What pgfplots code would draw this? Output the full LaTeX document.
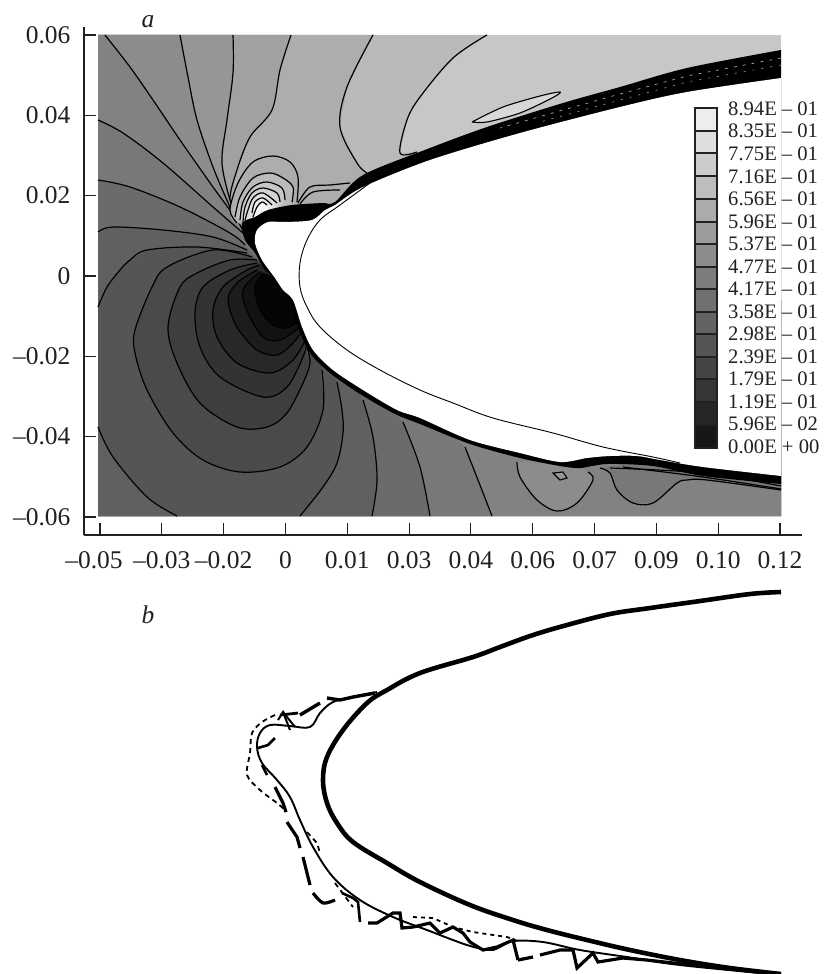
\documentclass[border=0pt]{standalone}
\usepackage{pgfplots}
\pgfplotsset{compat=1.18}
\usepackage{fontspec}
\setmainfont{Liberation Serif}
\definecolor{ink}{gray}{.13}
\definecolor{c0}{gray}{.78}\definecolor{c1}{gray}{.73}\definecolor{c2}{gray}{.68}\definecolor{c3}{gray}{.63}
\definecolor{c4}{gray}{.59}\definecolor{c5}{gray}{.55}\definecolor{c6}{gray}{.51}\definecolor{c7}{gray}{.47}
\definecolor{c8}{gray}{.42}\definecolor{c9}{gray}{.375}\definecolor{c10}{gray}{.335}\definecolor{c11}{gray}{.29}
\definecolor{c12}{gray}{.245}\definecolor{c13}{gray}{.2}\definecolor{c14}{gray}{.155}\definecolor{c15}{gray}{.11}
\definecolor{c16}{gray}{.07}\definecolor{c17}{gray}{.02}
\definecolor{l1}{gray}{.82}\definecolor{l2}{gray}{.87}\definecolor{l3}{gray}{.92}\definecolor{l4}{gray}{.96}
% fill a band between a contour and its closure, then stroke the contour
\def\fb#1#2#3{\edef\tmp{\noexpand\addplot[fill=#1,draw=none] coordinates {#2 #3} --cycle;
  \noexpand\addplot[black,line width=1.2pt,smooth,tension=.55] coordinates {#2};}\tmp}
% the same with a rounded fill, for closed rings
\def\fs#1#2#3{\edef\tmp{\noexpand\addplot[fill=#1,draw=none,smooth,tension=.55] coordinates {#2 #3};
  \noexpand\addplot[black,line width=1.2pt,smooth,tension=.55] coordinates {#2};}\tmp}
\def\ln#1{\addplot[black,line width=1.2pt,smooth,tension=.55] coordinates {#1};}
\def\lb#1#2#3{\addplot[fill=black!#3,draw=ink,line width=1.2pt] coordinates {(695,#1) (717,#1) (717,#2) (695,#2)} --cycle;}
\begin{document}
\begin{tikzpicture}
\useasboundingbox (0,0) rectangle (826pt,-974pt);
\begin{axis}[
  at={(84pt,-535pt)},anchor=south west,scale only axis,width=718pt,height=508pt,
  xmin=-0.054,xmax=0.1255,ymin=-0.06448,ymax=0.06199,
  x filter/.expression={-0.05+(x-100)*0.00025},
  y filter/.expression={0.06-(y-35)*0.000248963},
  scaled x ticks=false,scaled y ticks=false,
  axis x line=bottom,axis y line=left,axis line style={-,ink,line width=1.3pt},
  tick style={ink,line width=1.1pt},tickwidth=12pt,tick align=inside,
  xtick={-0.05,-0.03455,-0.01909,-0.00364,0.01182,0.02727,0.04273,0.05818,0.07364,0.08909,0.10455,0.12},
  xticklabels={\hspace*{-12pt}–0.05,–0.03,–0.02,0,0.01,0.03,0.04,0.06,0.07,0.09,0.10,0.12},
  ytick={-0.06,-0.04,-0.02,0,0.02,0.04,0.06},
  yticklabels={–0.06,–0.04,–0.02,0,0.02,0.04,0.06},
  tick label style={font=\fontsize{25.5}{28}\selectfont,text=ink},
  xticklabel style={yshift=-13pt},
  yticklabel style={xshift=-10pt},
  no markers,
]
% field
\addplot[fill=c0,draw=none] coordinates {(98,35) (781,35) (781,516) (98,516)} --cycle;
% light side, contours from the top right to the left
\fb{c1}{(487,35) (453,58) (420,97) (407,120) (400,153) (417,152)}{(430,200) (450,300) (781,300) (781,516) (98,516) (98,35)}
\fb{c2}{(373,35) (347,87) (340,127) (357,163) (367,173)}{(380,200) (400,300) (781,300) (781,516) (98,516) (98,35)}
\fb{c3}{(291,35) (280,70) (272,110) (250,137) (237,170) (230,200) (240,223)}{(300,300) (781,300) (781,516) (98,516) (98,35)}
\fb{c4}{(233,35) (233,73) (227,120) (222,163) (232,207) (240,227)}{(300,300) (781,300) (781,516) (98,516) (98,35)}
\fb{c5}{(180,35) (188,77) (197,120) (213,167) (230,207) (240,227)}{(300,300) (781,300) (781,516) (98,516) (98,35)}
\fb{c6}{(105,35) (130,67) (153,100) (180,140) (213,187) (237,220) (245,235)}{(300,300) (781,300) (781,516) (98,516) (98,35)}
% lighter and darker pockets below the body
\fs{c5}{(517,462) (520,477) (537,500) (557,511) (577,503) (593,480) (588,472)}{(560,460)}
\addplot[fill=c4,draw=black,line width=1.1pt] coordinates {(553,473) (563,472) (567,478) (560,480)} --cycle;
\fb{c7}{(600,468) (610,473) (617,490) (633,503) (653,503) (677,483) (687,480) (707,480) (781,490)}{(781,470) (650,460)}
% contours that run out of the field and come back
\fb{c7}{(98,120) (123,133) (163,163) (213,207) (243,233)}{(300,300) (465,447) (478,480) (492,516) (98,516)}
\ln{(465,447) (478,480) (492,516)}
\fb{c8}{(98,180) (130,187) (180,207) (230,233) (245,245)}{(300,300) (403,422) (420,467) (430,516) (98,516)}
\ln{(403,422) (420,467) (430,516)}
\fb{c9}{(98,232) (113,227) (163,230) (213,237) (247,250)}{(300,300) (363,400) (373,437) (377,480) (372,516) (98,516)}
\ln{(363,400) (373,437) (377,480) (372,516)}
\fb{c10}{(98,307) (107,287) (120,270) (130,260) (147,250) (197,247) (247,253)}{(300,300) (337,382) (342,410) (343,433) (337,463) (323,487) (300,516) (177,516) (147,497) (113,457) (98,427)}
\ln{(337,382) (342,410) (343,433) (337,463) (323,487) (300,516)}
\ln{(177,516) (147,497) (113,457) (98,427)}
% rings round the dark centre
\fs{c11}{(252,257) (213,250) (167,267) (152,287) (135,330) (135,353) (147,390) (173,433) (203,460) (240,472) (280,467) (307,447) (323,410) (322,370)}{(340,300)}
\fs{c12}{(257,260) (230,260) (197,273) (180,287) (168,327) (177,363) (200,403) (237,427) (267,427) (287,413) (303,383) (310,363) (307,347)}{(340,300)}
\fs{c13}{(257,263) (230,270) (203,287) (195,313) (200,347) (220,377) (263,397) (287,387) (303,357) (307,343)}{(340,300)}
\fs{c14}{(260,265) (247,270) (223,287) (213,310) (217,337) (237,363) (270,373) (293,360) (307,337)}{(340,300)}
\fs{c15}{(257,270) (237,283) (228,300) (237,327) (257,350) (277,355) (293,343) (305,327)}{(340,300)}
\fs{c16}{(260,272) (243,290) (248,313) (263,337) (280,340) (300,327)}{(340,300)}
\fs{c17}{(263,273) (255,287) (260,310) (273,325) (287,328) (300,320)}{(340,300)}
% lobe over the nose
\fs{c2}{(297,202) (298,177) (290,162) (273,156) (253,162) (238,183) (230,210) (237,223)}{(270,225)}
\fs{c1}{(292,202) (293,187) (283,178) (270,173) (253,178) (240,197) (235,217)}{(270,225)}
\fs{c0}{(285,200) (282,188) (267,182) (253,187) (243,202) (240,220)}{(270,225)}
\fs{l1}{(280,202) (277,193) (263,188) (252,193) (245,207) (243,222)}{(270,225)}
\fs{l2}{(277,203) (263,193) (253,198) (248,210) (245,220)}{(270,225)}
\fs{l3}{(272,205) (263,198) (255,202) (252,213)}{(270,225)}
\fs{l4}{(267,205) (262,202) (257,207) (253,217)}{(270,225)}
\ln{(298,203) (310,187) (330,185) (350,183)}
\ln{(300,204) (313,192) (340,190)}
% lines under the lower band
\ln{(623,467) (703,477) (781,489)}
\ln{(610,468) (703,473) (781,486)}
% light sliver above the upper band
\addplot[fill=c0!70!white,draw=black,line width=1.1pt,smooth,tension=.5] coordinates {(472,122) (503,107) (540,96) (560,92) (552,98) (520,113) (487,122) (472,122)};
% band and body
\addplot[fill=black,draw=none,smooth,tension=.5] coordinates {(781,50) (687,68) (620,87) (563,103) (487,127) (430,148) (363,175) (335,202) (322,203) (292,205) (268,210) (255,217) (242,223) (245,240) (255,253) (265,270) (277,280) (290,302) (298,327) (310,353) (330,373) (360,394) (395,414) (420,424) (470,444) (520,458) (560,466) (580,468) (607,464) (653,466) (703,476) (781,484)};
\addplot[fill=white,draw=none,smooth,tension=.5] coordinates {(781,78) (687,92) (620,107) (520,133) (430,160) (363,187) (335,205) (325,210) (312,220) (285,222) (268,222) (257,230) (255,243) (262,260) (275,278) (283,290) (293,300) (302,327) (313,350) (333,370) (363,390) (397,410) (420,418) (470,440) (520,453) (560,462) (587,458) (610,456) (637,456) (660,460) (703,467) (781,476)};
\addplot[gray!70,line width=.7pt,dash pattern=on 3pt off 6pt] coordinates {(781,58) (687,76) (620,94) (563,110) (500,128)};
\addplot[gray!70,line width=.6pt,dash pattern=on 2pt off 7pt] coordinates {(781,65) (687,82) (620,100) (540,122)};
\addplot[black,line width=.9pt,smooth,tension=.6] coordinates {(370,183) (340,205) (320,220) (307,240) (300,263) (300,287) (307,307) (320,327) (347,350) (380,370) (420,390) (453,403) (493,418) (553,433) (603,447) (653,457) (680,463)};
% colour key
\lb{108}{131}{7}\lb{131}{153}{13}\lb{153}{176}{20}\lb{176}{199}{26}
\lb{199}{222}{33}\lb{222}{244}{39}\lb{244}{267}{45}\lb{267}{289}{51}
\lb{289}{312}{56}\lb{312}{334}{61}\lb{334}{357}{67}\lb{357}{379}{73}
\lb{379}{402}{79}\lb{402}{425}{85}\lb{425}{448}{91}
\end{axis}
% sketch b, no scale
\begin{axis}[
  at={(0pt,-974pt)},anchor=south west,scale only axis,width=826pt,height=974pt,
  xmin=0,xmax=826,ymin=0,ymax=974,y dir=reverse,hide axis,no markers,clip=true,
]
\addplot[black,line width=4.6pt,line join=round,smooth,tension=.6] coordinates {(781,592) (750,594) (700,601) (650,608) (610,614) (567,625) (533,635) (500,647) (473,657) (420,673) (387,690) (367,703) (343,730) (327,757) (323,780) (327,803) (337,823) (353,842) (387,863) (420,882) (470,905) (513,920) (547,930) (587,940) (630,950) (680,960) (730,968) (781,974)};
\addplot[black,line width=1.9pt,smooth,tension=.6] coordinates {(377,692) (353,697) (333,702) (320,713) (310,727) (290,726) (270,725) (260,733) (257,747) (262,763) (277,780) (290,797) (300,820) (313,847) (333,877) (360,900) (393,917) (427,930) (467,945) (490,950) (500,947) (513,941) (543,942) (580,950) (627,957) (680,965) (781,975)};
% long dashes
\addplot[black,line width=3.4pt] coordinates {(300,715) (320,703)};
\addplot[black,line width=3.4pt] coordinates {(327,698) (340,700) (353,697) (375,693)};
\addplot[black,line width=2.8pt] coordinates {(280,715) (298,713)};
\addplot[black,line width=2.6pt] coordinates {(258,748) (268,745) (275,738)};
\addplot[black,line width=2.6pt] coordinates {(262,765) (267,775)};
\addplot[black,line width=3.2pt] coordinates {(275,787) (283,803) (286,812)};
\addplot[black,line width=3.2pt] coordinates {(287,822) (297,837) (300,848)};
\addplot[black,line width=3.2pt] coordinates {(303,857) (310,885)};
\addplot[black,line width=3.2pt,smooth] coordinates {(313,893) (323,903) (335,900)};
\addplot[black,line width=2.6pt] coordinates {(342,893) (353,898) (358,902) (360,922)};
\addplot[black,line width=3.2pt] coordinates {(368,923) (377,923) (393,913) (400,913) (402,928) (413,927) (430,923) (440,933) (453,927) (463,933) (470,942) (483,950) (497,947) (513,940) (518,960)};
\addplot[black,line width=3.2pt] coordinates {(518,960) (533,957)};
\addplot[black,line width=3.2pt] coordinates {(540,955) (560,950) (573,950) (577,968) (593,953) (598,962) (623,958) (647,960) (700,966) (781,974)};
\addplot[black,line width=2pt] coordinates {(278,720) (283,712) (290,730)};
\addplot[black,line width=2pt] coordinates {(283,712) (295,727)};
% short dashes
\addplot[black,line width=1.8pt,dash pattern=on 5pt off 4pt,smooth] coordinates {(275,715) (262,722) (252,733) (250,753) (247,775) (260,790) (277,803) (285,810)};
\addplot[black,line width=1.8pt,dash pattern=on 5pt off 4pt] coordinates {(307,832) (317,843) (320,853)};
\addplot[black,line width=1.8pt,dash pattern=on 5pt off 4pt] coordinates {(335,883) (353,907)};
\addplot[black,line width=1.8pt,dash pattern=on 4pt off 4pt] coordinates {(413,917) (433,918) (453,927) (473,932) (507,937) (520,942)};
\end{axis}
% labels
\foreach \t/\y in {8.94E – 01/109,8.35E – 01/131,7.75E – 01/154,7.16E – 01/177,6.56E – 01/199,5.96E – 01/222,5.37E – 01/244,4.77E – 01/267,4.17E – 01/289,3.58E – 01/312,2.98E – 01/334,2.39E – 01/357,1.79E – 01/379,1.19E – 01/402,5.96E – 02/424,0.00E + 00/447}
  \node[anchor=west,inner sep=0pt,text=ink,font=\fontsize{20.6}{22}\selectfont] at (728pt,-\y pt) {\t};
\node[inner sep=0pt,text=ink,font=\fontsize{25.5}{28}\selectfont\itshape] at (148pt,-22pt) {a};
\node[inner sep=0pt,text=ink,font=\fontsize{25.5}{28}\selectfont\itshape] at (148pt,-615pt) {b};
\end{tikzpicture}
\end{document}
